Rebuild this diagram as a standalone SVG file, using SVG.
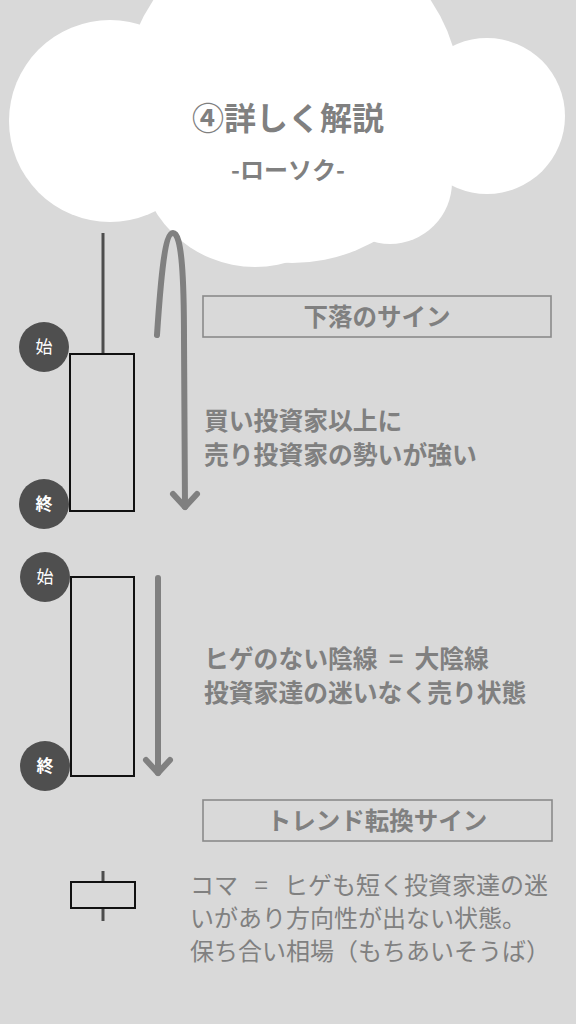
<svg xmlns="http://www.w3.org/2000/svg" width="576" height="1024" viewBox="0 0 576 1024">
<style>
.t{font-family:"Noto Sans CJK JP","Noto Sans",sans-serif;fill:#808080}
.b{font-weight:bold}
.lbl{fill:none;stroke:#8a8a8a;stroke-width:1.6}
.body{fill:none;stroke:#111;stroke-width:2}
.wick{stroke:#4d4d4d;stroke-width:3}
.dot{fill:#4f4f4f}
.dt{font-family:"Noto Sans CJK JP","Noto Sans",sans-serif;fill:#fff;font-size:17px}
.arr{fill:none;stroke:#808080;stroke-width:6;stroke-linecap:round;stroke-linejoin:round}
</style>
<rect width="576" height="1024" fill="#d9d9d9"/>
<g id="cloud" fill="#fff">
<circle cx="110" cy="121" r="101"/>
<circle cx="292" cy="95" r="168"/>
<circle cx="487" cy="116" r="78"/>
<circle cx="390" cy="182" r="62"/>
<circle cx="255" cy="150" r="117"/>
<text class="t b" x="288" y="130" font-size="32" text-anchor="middle">④詳しく解説</text>
<text class="t b" x="288" y="179" font-size="24" text-anchor="middle">-ローソク-</text>
</g>
<g id="candle1">
<line class="wick" x1="103" y1="233" x2="103" y2="354"/>
<rect class="body" x="70" y="354" width="64" height="157"/>
</g>
<g id="start1"><circle class="dot" cx="44" cy="347" r="25"/><text class="dt" x="44" y="353" text-anchor="middle">始</text></g>
<g id="end1"><circle class="dot" cx="44" cy="504" r="25"/><text class="dt b" x="44" y="510" text-anchor="middle">終</text></g>
<g id="label1">
<rect class="lbl" x="203" y="296" width="348" height="41"/>
<text class="t b" x="377" y="326" font-size="24.5" text-anchor="middle">下落のサイン</text>
</g>
<g id="text1">
<text class="t b" x="204" y="430" font-size="24.8">買い投資家以上に</text>
<text class="t b" x="204" y="464" font-size="24.8">売り投資家の勢いが強い</text>
</g>
<g id="candle2">
<rect class="body" x="71" y="577" width="63" height="199"/>
</g>
<g id="start2"><circle class="dot" cx="45" cy="577" r="25"/><text class="dt" x="45" y="583" text-anchor="middle">始</text></g>
<g id="end2"><circle class="dot" cx="45" cy="766" r="25"/><text class="dt b" x="45" y="772" text-anchor="middle">終</text></g>
<g id="text2">
<text class="t b" x="204" y="668" font-size="24.8" word-spacing="5.5">ヒゲのない陰線 = 大陰線</text>
<text class="t b" x="204" y="702" font-size="24.8">投資家達の迷いなく売り状態</text>
</g>
<g id="label2">
<rect class="lbl" x="203" y="800" width="349" height="41"/>
<text class="t b" x="377" y="830" font-size="24.5" text-anchor="middle">トレンド転換サイン</text>
</g>
<g id="candle3">
<line class="wick" x1="103" y1="871" x2="103" y2="882"/>
<line class="wick" x1="103" y1="908" x2="103" y2="921"/>
<rect class="body" x="71" y="882" width="64" height="26"/>
</g>
<g id="text3">
<text class="t" x="190" y="894" font-size="24" word-spacing="11">コマ = ヒゲも短く投資家達の迷</text>
<text class="t" x="190" y="927" font-size="24">いがあり方向性が出ない状態。</text>
<text class="t" x="190" y="960" font-size="24">保ち合い相場（もちあいそうば）</text>
</g>
<g id="connectors">
<path class="arr" d="M157,335 C161,275 165,233 173,233 C182,233 184,280 184,340 L185,507"/>
<polyline class="arr" points="173,494 185,507 197,494"/>
<path class="arr" d="M158,578 L158,773"/>
<polyline class="arr" points="146,760 158,773 170,760"/>
</g>
</svg>
